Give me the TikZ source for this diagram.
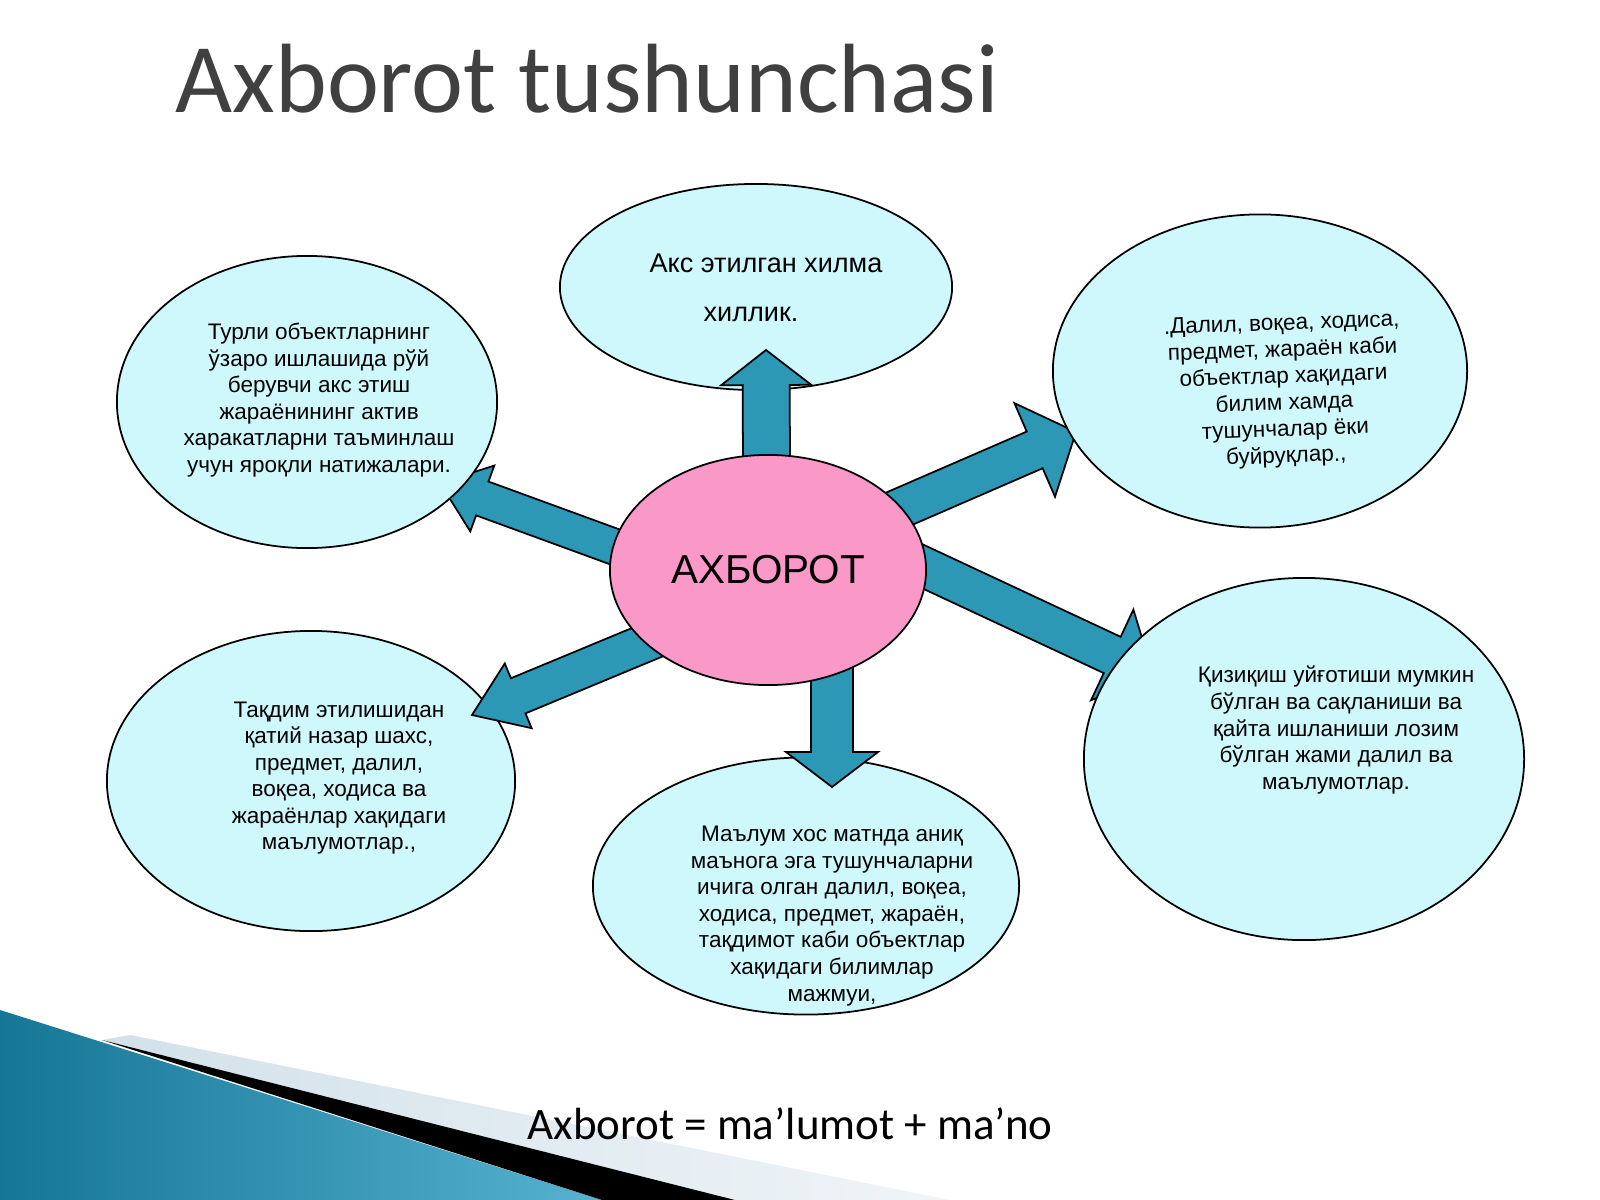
\documentclass[tikz,border=0pt]{standalone}
\usepackage{fontspec}
\setmainfont{Liberation Sans}
\newfontfamily\titlefont{Carlito}
\usetikzlibrary{calc,shapes.geometric}

\definecolor{arrowteal}{RGB}{45,152,182}
\definecolor{bubblecyan}{RGB}{206,248,251}
\definecolor{hubpink}{RGB}{250,152,200}
\definecolor{titlegray}{RGB}{64,64,64}
\definecolor{decodark}{RGB}{22,118,150}
\definecolor{decolight}{RGB}{86,178,208}
\definecolor{decoband}{RGB}{210,225,234}

\tikzset{
  bubble/.style={ellipse, draw, line width=0.5pt, fill=bubblecyan, inner sep=0pt},
  hub/.style={ellipse, draw, line width=0.5pt, fill=hubpink, inner sep=0pt,
    font=\fontsize{11.5}{13}\selectfont},
  blockarrow/.style={draw, line width=0.5pt, fill=arrowteal, line join=miter},
  bubbletext/.style={align=center, inner sep=0pt, font=\fontsize{6.4}{7.55}\selectfont},
}

% tail, tip, shaft half width, head half width, head length
\newcommand{\blockarrow}[5]{%
  \coordinate (neck) at ($(#2)!#5!(#1)$);
  \draw[blockarrow] ($(#1)!#3!90:(#2)$) -- ($(neck)!#3!90:(#2)$)
    -- ($(neck)!#4!90:(#2)$) -- (#2) -- ($(neck)!#4!-90:(#2)$)
    -- ($(neck)!#3!-90:(#2)$) -- ($(#1)!#3!-90:(#2)$) -- cycle;
}

\begin{document}
\begin{tikzpicture}[x=0.01cm, y=-0.01cm]
    \useasboundingbox (0,0) rectangle (1600,1200);
    \fill[white] (0,0) rectangle (1600,1200);

    % corner decoration
    \shade[left color=decoband, right color=decoband!35] (130,1035) -- (950,1200) -- (735,1200) -- (102,1040) -- cycle;
    \shade[left color=decodark, right color=decolight] (0,1010) -- (602,1200) -- (0,1200) -- cycle;
    \fill[black] (102,1040) -- (735,1200) -- (602,1200) -- cycle;

    \node[anchor=base west, inner sep=0pt, text=titlegray, font=\titlefont\fontsize{28}{30}\selectfont] (title) at (175,112) {Axborot tushunchasi};

    \coordinate (tailUp) at (767,570);
    \coordinate (tipUp) at (766,350);
    \coordinate (tailUpRight) at (804,550);
    \coordinate (tipUpRight) at (1076,432);
    \coordinate (tailDownRight) at (834,525);
    \coordinate (tipDownRight) at (1153,674);
    \coordinate (tailDown) at (832,600);
    \coordinate (tipDown) at (832,787);
    \coordinate (tailDownLeft) at (749,600);
    \coordinate (tipDownLeft) at (472,715);
    \coordinate (tailUpLeft) at (689,574);
    \coordinate (tipUpLeft) at (440,483);

    \blockarrow{tailUpRight}{tipUpRight}{0.20cm}{0.51cm}{0.45cm}
    \blockarrow{tailDownRight}{tipDownRight}{0.20cm}{0.50cm}{0.45cm}
    \blockarrow{tailUpLeft}{tipUpLeft}{0.18cm}{0.35cm}{0.45cm}

    \node[bubble, minimum width=3.92cm, minimum height=2.06cm] (top) at (756,287) {};
    \node[bubble, minimum width=3.80cm, minimum height=2.92cm] (upLeft) at (307,402) {};
    \node[bubble, minimum width=4.14cm, minimum height=3.13cm] (upRight) at (1260,371) {};
    \node[bubble, minimum width=4.08cm, minimum height=3.00cm] (downLeft) at (311,781) {};
    \node[bubble, minimum width=4.26cm, minimum height=2.57cm] (down) at (806,886) {};
    \node[bubble, minimum width=4.40cm, minimum height=3.62cm] (downRight) at (1304,759) {};

    \blockarrow{tailUp}{tipUp}{0.235cm}{0.45cm}{0.35cm}
    \blockarrow{tailDown}{tipDown}{0.21cm}{0.46cm}{0.35cm}
    \blockarrow{tailDownLeft}{tipDownLeft}{0.19cm}{0.35cm}{0.50cm}

    \node[hub, minimum width=3.16cm, minimum height=2.30cm] (hub) at (768,570) {АХБОРОТ};

    \node[bubbletext, font=\fontsize{7.7}{13.9}\selectfont] (topText) at (766,288) {Акс этилган хилма\\хиллик.\hspace*{0.3cm}};
    \node[bubbletext] (upLeftText) at (319,400) {Турли объектларнинг\\ўзаро ишлашида рўй\\берувчи акс этиш\\жараёнининг актив\\харакатларни таъминлаш\\учун яроқли натижалари.};
    \node[bubbletext, rotate=2] (upRightText) at (1284,391) {.Далил, воқеа, ходиса,\\предмет, жараён каби\\объектлар хақидаги\\билим хамда\\тушунчалар ёки\\буйруқлар.,};
    \node[bubbletext] (downRightText) at (1336,730) {Қизиқиш уйғотиши мумкин\\бўлган ва сақланиши ва\\қайта ишланиши лозим\\бўлган жами далил ва\\маълумотлар.};
    \node[bubbletext] (downLeftText) at (339,778) {Тақдим этилишидан\\қатий назар шахс,\\предмет, далил,\\воқеа, ходиса ва\\жараёнлар хақидаги\\маълумотлар.,};
    \node[bubbletext] (downText) at (832,916) {Маълум хос матнда аниқ\\маънога эга тушунчаларни\\ичига олган далил, воқеа,\\ходиса, предмет, жараён,\\тақдимот каби объектлар\\хақидаги билимлар\\мажмуи,};

    \node[inner sep=0pt, font=\titlefont\fontsize{12.8}{14}\selectfont] (formula) at (790,1124) {Axborot = ma’lumot + ma’no};
\end{tikzpicture}
\end{document}
